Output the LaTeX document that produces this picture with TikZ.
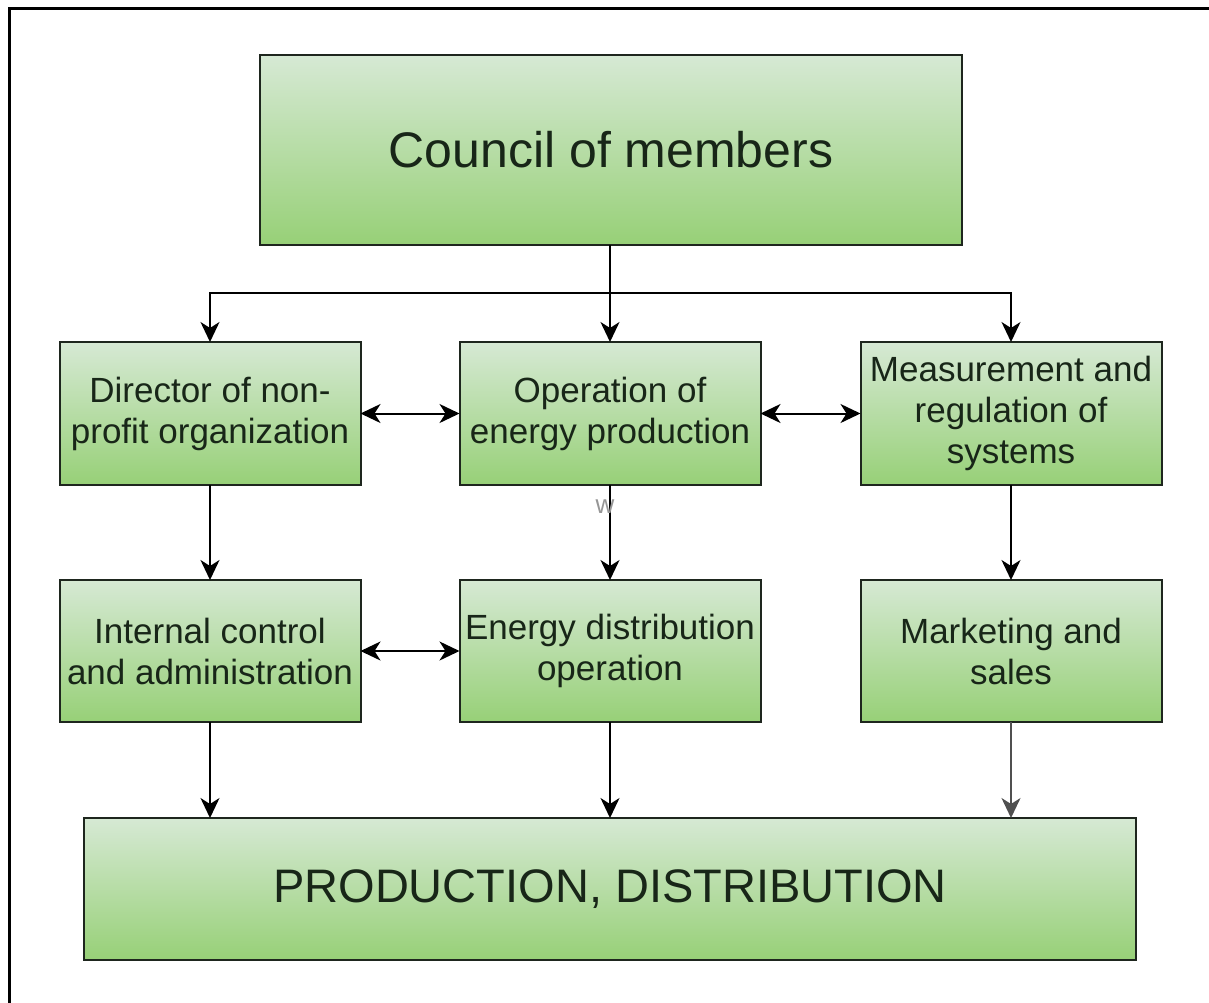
\documentclass[tikz,border=0pt]{standalone}
\usepackage{fontspec}
\setmainfont{Liberation Sans}
\usetikzlibrary{arrows.meta}
\definecolor{gtop}{RGB}{214,233,212}
\definecolor{gbot}{RGB}{151,208,119}
\definecolor{txt}{RGB}{24,38,24}
\definecolor{edge}{RGB}{30,38,30}
\definecolor{darkgrayline}{RGB}{80,80,80}
\definecolor{wgray}{RGB}{150,150,150}
\tikzset{
  box/.style={draw=edge, line width=2pt, top color=gtop, bottom color=gbot,
    text=txt, align=center, inner sep=0pt, outer sep=0pt},
  rowbox/.style={box, minimum width=301pt, minimum height=143pt,
    font=\fontsize{35}{41}\selectfont},
  conn/.style={line width=2pt, draw=black, -{Stealth[length=20pt,width=19pt,inset=6pt]}},
  dconn/.style={line width=2pt, draw=black, {Stealth[length=20pt,width=19pt,inset=6pt]}-{Stealth[length=20pt,width=19pt,inset=6pt]}}
}
\begin{document}
\begin{tikzpicture}[x=1pt,y=-1pt]
\useasboundingbox (0,0) rectangle (1209,1002);
\fill[white] (0,0) rectangle (1209,1002);
\draw[line width=3pt, black] (9,1004) -- (9,8) -- (1211,8);

\node[box, minimum width=702pt, minimum height=190pt, font=\fontsize{50}{60}\selectfont] (council) at (611,150) {Council of members};

\node[rowbox] (dir) at (210,413.5) {Director of non-\\profit organization};
\node[rowbox] (oper) at (610,413.5) {Operation of\\energy production};
\node[rowbox] (meas) at (1011,413.5) {Measurement and\\regulation of\\systems};

\node[rowbox, minimum height=142pt] (intc) at (210,651) {Internal control\\and administration};
\node[rowbox, minimum height=142pt] (edist) at (610,651) {Energy distribution\\operation};
\node[rowbox, minimum height=142pt] (mark) at (1011,651) {Marketing and\\sales};

\node[box, minimum width=1052pt, minimum height=142pt, font=\fontsize{47}{56}\selectfont] (prod) at (610,889) {PRODUCTION, DISTRIBUTION};

\coordinate (bus) at (610,293);
\draw[line width=2pt] (council.south -| bus) -- (bus);
\draw[conn] (bus) -- (oper.north);
\draw[conn] (bus) -| (dir.north);
\draw[conn] (bus) -| (meas.north);

\draw[dconn] (dir.east) -- (oper.west);
\draw[dconn] (oper.east) -- (meas.west);
\draw[dconn] (intc.east) -- (edist.west);

\draw[conn] (dir.south) -- (intc.north);
\draw[conn] (oper.south) -- (edist.north);
\draw[conn] (meas.south) -- (mark.north);

\draw[conn] (intc.south) -- (intc.south |- prod.north);
\draw[conn] (edist.south) -- (prod.north -| edist.south);
\draw[conn, draw=darkgrayline] (mark.south) -- (mark.south |- prod.north);

\node[text=wgray, font=\fontsize{26}{28}\selectfont, inner sep=0pt] (w) at (605,507) {w};
\end{tikzpicture}
\end{document}
